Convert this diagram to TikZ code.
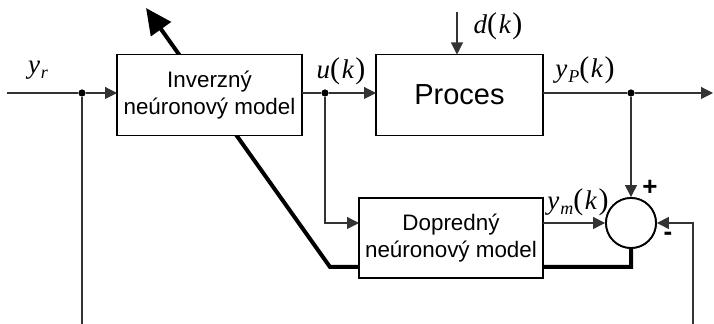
\documentclass[tikz,border=0pt]{standalone}
\usepackage{fontspec}
\setmainfont{Liberation Sans}
\newfontfamily\lblfont{Liberation Serif}
\usetikzlibrary{arrows.meta}
% signal name with a lowered subscript
\newcommand{\sigsub}[2]{{\lblfont\itshape #1\kern0.5pt\raisebox{-2.5pt}{\fontsize{9}{9}\selectfont #2}}}
% time argument with upright, slightly larger parentheses
\newcommand{\sigarg}[1]{{\lblfont\upshape\fontsize{15}{15}\selectfont(}\kern0.8pt{\lblfont\itshape #1}\kern0.8pt{\lblfont\upshape\fontsize{15}{15}\selectfont)}}
\begin{document}
\begin{tikzpicture}[x=0.5pt,y=-0.5pt,
  block/.style={draw, line width=0.9pt, fill=white, align=center,
    inner sep=0pt, outer sep=0pt, font=\fontsize{11.2}{13.6}\selectfont},
  sig/.style={line width=0.55pt, draw=black!80},
  tip/.style={-{Triangle[length=6pt,width=6pt]}},
  junct/.style={circle, fill=black, inner sep=0pt, minimum size=3.6pt},
  lbl/.style={inner sep=0pt, font=\lblfont\itshape\fontsize{13.5}{15}\selectfont},
  sign/.style={inner sep=0pt, font=\bfseries\fontsize{13}{15}\selectfont},
  sumnode/.style={circle, draw, line width=0.9pt, fill=white, minimum size=25pt, inner sep=0pt},
  heavy/.style={line width=2pt, line join=miter, -{Triangle[length=13pt,width=12pt]}}]

\useasboundingbox (0,0) rectangle (714,324);

% adaptation path, drawn first so the blocks cover it
\coordinate (wbend) at (330,267);
\coordinate (wtip) at (146,8);
\node[sumnode] (sum) at (631,223) {};
\draw[heavy] (sum.south) |- (wbend) -- (wtip);

% blocks
\node[block, minimum width=92.5pt, minimum height=40.5pt] (inv) at (209.5,95) {Inverzný\\neúronový model};
\node[block, minimum width=83.5pt, minimum height=40.5pt, font=\fontsize{14.5}{17}\selectfont] (proc) at (459.5,95) {Proces};
\node[block, minimum width=92pt, minimum height=40pt] (dop) at (451,238) {Dopredný\\neúronový model};
\node[sumnode] (sumtop) at (sum) {};

% reference input
\coordinate (yin) at (7,93);
\node[junct] (j1) at (82,93) {};
\coordinate (j1b) at (82,324);
\draw[sig] (yin) -- (j1) -- (j1b);
\draw[sig, tip] (j1) -- (inv.west |- j1);
\node[lbl] (lyr) at (38,70) {\sigsub{y}{r}};

% control signal
\node[junct] (j2) at (325,93) {};
\coordinate (ubend) at (325,223);
\draw[sig] (inv.east |- j2) -- (j2);
\draw[sig, tip] (j2) -- (proc.west |- j2);
\draw[sig, tip] (j2) -- (ubend) -- (dop.west |- ubend);
\node[lbl] (lu) at (341,71) {u\sigarg{k}};

% disturbance
\coordinate (din) at (457,12);
\draw[sig, tip] (din) -- (din |- proc.north);
\node[lbl] (ld) at (498,26) {d\sigarg{k}};

% process output
\node[junct] (j3) at (631,93) {};
\coordinate (yout) at (713,93);
\draw[sig] (proc.east |- j3) -- (j3);
\draw[sig, tip] (j3) -- (yout);
\draw[sig, tip] (j3) -- (sum.north);
\node[lbl] (lyp) at (585,70) {\sigsub{y}{P}\sigarg{k}};

% model output
\draw[sig, tip] (dop.east |- sum) -- (sum.west);
\node[lbl] (lym) at (578,202) {\sigsub{y}{m}\sigarg{k}};

% feedback into the summing junction
\coordinate (fbin) at (693,324);
\coordinate (fbb) at (693,223);
\draw[sig, tip] (fbin) -- (fbb) -- (sum.east);

\node[sign] (plus) at (650,188) {+};
\node[sign] (minus) at (668,236) {-};
\end{tikzpicture}
\end{document}
